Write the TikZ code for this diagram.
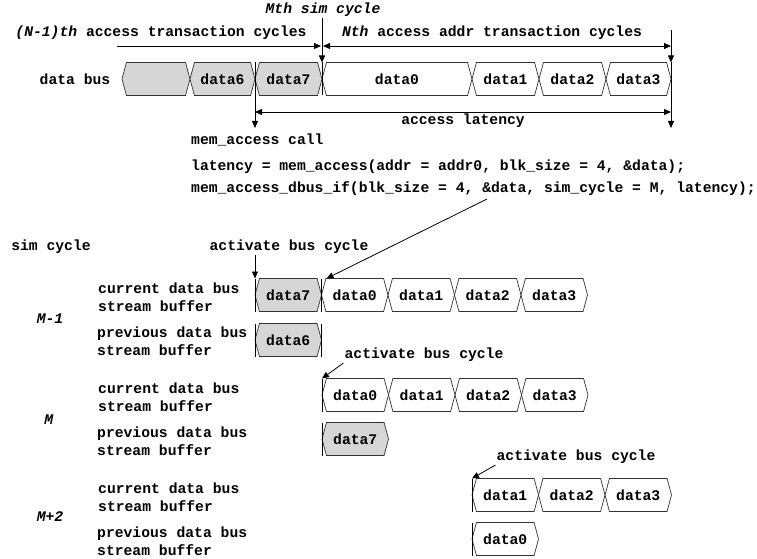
\documentclass[tikz,border=0pt]{standalone}
\usepackage{fontspec}
\setmainfont{Liberation Mono}
\usetikzlibrary{positioning,arrows.meta,shapes.symbols}

\tikzset{
  cell/.style={signal, signal to=west and east, signal pointer angle=150,
    draw=black!80, line width=0.7pt, minimum height=33pt, minimum width=66.5pt,
    inner sep=0pt, outer sep=0pt},
  oldcell/.style={cell, fill=black!16},
  tip/.style={-{Triangle[length=7pt,width=6pt]}, line width=0.8pt},
  both/.style={{Triangle[length=7pt,width=6pt]}-{Triangle[length=7pt,width=6pt]}, line width=0.8pt},
  marker/.style={line width=0.9pt},
  lbl/.style={align=left, inner sep=1pt},
}

\begin{document}
\begin{tikzpicture}[x=1pt, y=-1pt, font=\fontsize{14.7}{18}\selectfont\bfseries]
    \useasboundingbox (0,0) rectangle (757,559);
    % Draw the data bus
    \node (bus) at (75,79) {data bus};
    \node[oldcell, minimum width=68pt, anchor=west] (dx) at (122,79) {};
    \node[oldcell, minimum width=65pt, right=0pt of dx] (d6) {data6};
    \node[oldcell, minimum width=67pt, right=0pt of d6] (d7) {data7};
    \node[cell, minimum width=150pt, right=0pt of d7] (d0) {data0};
    \node[cell, minimum width=67pt, right=0pt of d0] (d1) {data1};
    \node[cell, minimum width=67pt, right=0pt of d1] (d2) {data2};
    \node[cell, minimum width=65pt, right=0pt of d2] (d3) {data3};
    % Draw the Mth sim cycle marker
    \node[inner sep=1pt] (mth) at (323,10) {\textit{Mth sim cycle}};
    \draw[tip] (mth.south -| d0.west) -- (d0.west |- d0.north);
    \draw[marker] (d0.west |- d0.north) -- (d0.west |- d0.south);
    % Draw the end marker
    \coordinate (endtop) at (d3.east |- 0,30);
    \coordinate (latR) at (d3.east |- 0,128);
    \draw[tip] (endtop) -- (d3.east |- d3.north);
    \draw[tip] (d3.east |- d3.north) -- (latR);
    % Draw the call marker
    \coordinate (latL) at (d7.west |- 0,128);
    \draw[tip] (d7.west |- d7.north) -- (latL);
    % Draw the transaction spans
    \node (prevtxt) at (161,33) {\textit{(N-1)th} access transaction cycles};
    \node (nexttxt) at (492,33) {\textit{Nth} access addr transaction cycles};
    \coordinate (prevS) at (117,46);
    \draw[tip] (prevS) -- ([xshift=-1pt]d0.west |- prevS);
    \draw[both] ([xshift=1pt]d0.west |- prevS) -- (d3.east |- prevS);
    % Draw the access latency
    \draw[both] (d7.west |- 0,112) -- (d3.east |- 0,112) node[midway,below,inner sep=1pt] {access latency};
    % Draw the calls
    \node[lbl, anchor=west] (call) at (190,140) {mem\_access call};
    \node[lbl, anchor=west] (lat) at (190,167) {latency = mem\_access(addr = addr0, blk\_size = 4, \&data);};
    \node[lbl, anchor=west] (dbus) at (190,189) {mem\_access\_dbus\_if(blk\_size = 4, \&data, sim\_cycle = M, latency);};
    \coordinate (amp) at (487,199);
    % Draw the sim cycle M-1
    \node (sim) at (51,247) {sim cycle};
    \node[inner sep=1pt] (act1) at (289,247) {activate bus cycle};
    \node[lbl, anchor=west] (cur1) at (97,297) {current data bus\\stream buffer};
    \node (m1) at (50,319) {\textit{M-1}};
    \node[lbl, anchor=west] (prv1) at (96,341) {previous data bus\\stream buffer};
    \node[oldcell, anchor=west] (a7) at (255,295) {data7};
    \node[cell, right=0pt of a7] (a0) {data0};
    \node[cell, right=0pt of a0] (a1) {data1};
    \node[cell, right=0pt of a1] (a2) {data2};
    \node[cell, right=0pt of a2] (a3) {data3};
    \node[oldcell, anchor=west] (p6) at (255,340) {data6};
    \draw[marker] (a7.west |- a7.north) -- (a7.west |- a7.south);
    \draw[marker] (a0.west |- a0.north) -- (a0.west |- a0.south);
    \draw[marker] (p6.west |- p6.north) -- (p6.west |- p6.south);
    \draw[marker] (p6.east |- p6.north) -- (p6.east |- p6.south);
    \draw[tip] (act1.south -| a7.west) -- (a7.west |- a7.north);
    \draw[tip] (amp) -- ([xshift=5pt]a0.west |- a0.north);
    % Draw the sim cycle M
    \node[inner sep=1pt] (act2) at (424,355) {activate bus cycle};
    \node[lbl, anchor=west] (cur2) at (97,397) {current data bus\\stream buffer};
    \node (m2) at (49,420) {\textit{M}};
    \node[lbl, anchor=west] (prv2) at (96,441) {previous data bus\\stream buffer};
    \node[cell, anchor=west] (b0) at (322,395) {data0};
    \node[cell, right=0pt of b0] (b1) {data1};
    \node[cell, right=0pt of b1] (b2) {data2};
    \node[cell, right=0pt of b2] (b3) {data3};
    \node[oldcell, anchor=west] (q7) at (322,439) {data7};
    \draw[marker] (b0.west |- b0.north) -- (b0.west |- b0.south);
    \draw[marker] (q7.west |- q7.north) -- (q7.west |- q7.south);
    \draw[tip] (act2.south west) -- (b0.west |- b0.north);
    % Draw the sim cycle M+2
    \node[inner sep=1pt] (act3) at (576,457) {activate bus cycle};
    \node[lbl, anchor=west] (cur3) at (97,497) {current data bus\\stream buffer};
    \node (m3) at (50,517) {\textit{M+2}};
    \node[lbl, anchor=west] (prv3) at (96,541) {previous data bus\\stream buffer};
    \node[cell, anchor=west] (c1) at (472,495) {data1};
    \node[cell, right=0pt of c1] (c2) {data2};
    \node[cell, right=0pt of c2] (c3) {data3};
    \node[cell, anchor=west] (r0) at (472,539) {data0};
    \draw[marker] (c1.west |- c1.north) -- (c1.west |- c1.south);
    \draw[marker] (r0.west |- r0.north) -- (r0.west |- r0.south);
    \draw[tip] (act3.south west) -- (c1.west |- c1.north);
\end{tikzpicture}
\end{document}
